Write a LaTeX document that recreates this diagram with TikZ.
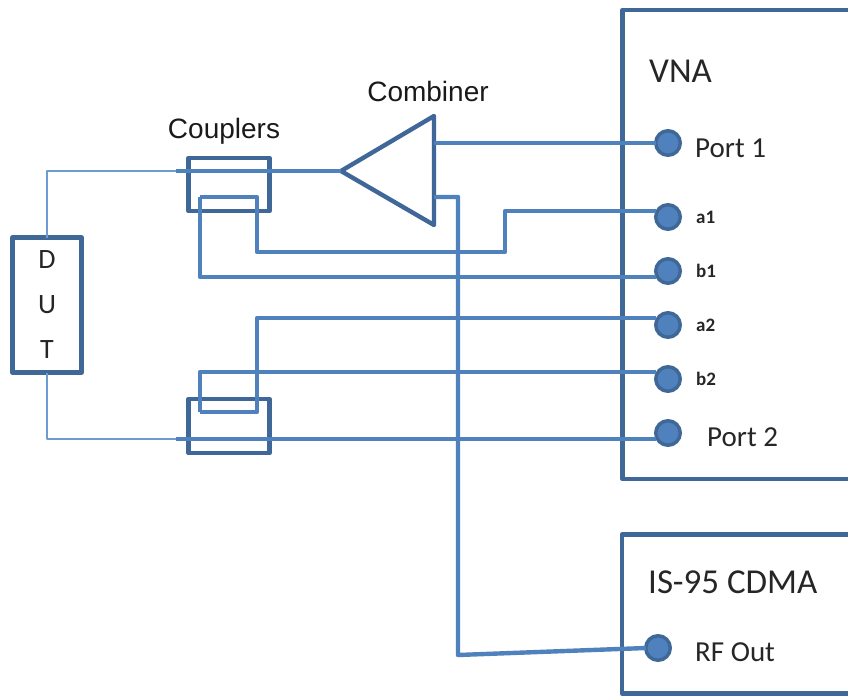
\documentclass[tikz,border=0pt]{standalone}
\usepackage{fontspec}
\setmainfont{Carlito}
\newfontfamily\labelfont{Liberation Sans}
\usetikzlibrary{positioning}
\definecolor{wireblue}{HTML}{4F81BD}
\definecolor{edgeblue}{HTML}{3F6797}
\definecolor{thinblue}{HTML}{6E9BD0}
\tikzset{
	box/.style={draw=edgeblue, line width=4.4pt, line join=round, outer sep=0pt, inner sep=0pt},
	wire/.style={draw=wireblue, line width=4.4pt, line join=round},
	thinwire/.style={draw=thinblue, line width=2.4pt, line join=round},
	port/.style={circle, draw=edgeblue, fill=wireblue, line width=3.5pt, minimum size=24.5pt, inner sep=0pt, outer sep=0pt},
	bigtext/.style={text=black!85, inner sep=0pt, font=\fontsize{29}{30}\selectfont},
	smalltext/.style={text=black!85, inner sep=0pt, font=\bfseries\fontsize{19}{20}\selectfont},
	titletext/.style={text=black!85, inner sep=0pt, font=\fontsize{35}{37}\selectfont},
	headtext/.style={text=black!90, inner sep=0pt, font=\labelfont\fontsize{28}{30}\selectfont},
}

\begin{document}
\begin{tikzpicture}[x=1pt, y=-1pt]
\useasboundingbox (0,0) rectangle (848,696);

% DUT
\node [box,
	minimum width=69pt,
	minimum height=135pt,
	align=center,
	font=\fontsize{28}{45}\selectfont,
	text=black!85,
]  (dut) at (47,305) {
\raisebox{-1.5pt}{D}\\\raisebox{-1.5pt}{U}\\\raisebox{-1.5pt}{T}
};

% Couplers
\node [box,
	minimum width=81pt,
	minimum height=53pt,
]  (coupler1) at (229,184.5) {};
\node [box,
	minimum width=81pt,
	minimum height=54pt,
	below = 188pt of coupler1
]  (coupler2) {};
\node [headtext, above = 13pt of coupler1, xshift=-5pt] (couplerlabel) {Couplers};

% Combiner
\coordinate (tip) at (341,171);
\coordinate (top) at (434,116);
\coordinate (bot) at (434,225);
\draw [box] (tip) -- (top) -- (bot) -- cycle;
\node [headtext] (combinerlabel) at (428,91) {Combiner};

% VNA
\coordinate (vnatop) at (848,10);
\coordinate (vnabot) at (848,479);
\draw [box] (vnatop) -| (622.5,479) -- (vnabot);
\node [titletext, anchor=west] (vna) at (649,71) {VNA};

% CDMA source
\coordinate (cdmatop) at (848,534.5);
\coordinate (cdmabot) at (848,693.5);
\draw [box] (cdmatop) -| (622,693.5) -- (cdmabot);
\node [titletext, anchor=west] (cdma) at (648,582) {IS-95 CDMA};

% Ports
\node [port] (port1) at (668,143) {};
\node [port, below = 49.5pt of port1] (a1) {};
\node [port, below = 29.5pt of a1] (b1) {};
\node [port, below = 29.5pt of b1] (a2) {};
\node [port, below = 29.5pt of a2] (b2) {};
\node [port, below = 29.5pt of b2] (port2) {};
\node [port] (rfout) at (658,648) {};

% Port labels
\node [bigtext, anchor=west] (port1label) at (695,148) {Port 1};
\node [smalltext, anchor=west] at (696,217) {a1};
\node [smalltext, anchor=west] at (696,271) {b1};
\node [smalltext, anchor=west] at (696,325) {a2};
\node [smalltext, anchor=west] at (696,379) {b2};
\node [bigtext, anchor=west] (port2label) at (707,437) {Port 2};
\node [bigtext, anchor=west] (rflabel) at (695,652) {RF Out};

% Points on the wires
\coordinate (in1) at (176,171);
\coordinate (in2) at (176,439);
\coordinate (loop1a) at (257,197);
\coordinate (loop1b) at (200,197);
\coordinate (loop2a) at (257,412);
\coordinate (loop2b) at (200,412);
\coordinate (sumout) at (434,143);
\coordinate (sumin) at (434,197);

% Wires
\draw [thinwire] (dut.north) |- (in1);
\draw [thinwire] (dut.south) |- (in2);
\draw [wire] (in1) -- (tip);
\draw [wire] (in2) -- (in2 -| port2.west);
\draw [wire] (sumout) -- (port1.west);
\draw [wire] (sumin) -| (458,655) -- (rfout.west);
\draw [wire] (loop1b) -- (loop1a) |- (505,252) |- ([yshift=6pt]a1.west);
\draw [wire] (loop1b) |- ([yshift=-6pt]b1.west);
\draw [wire] (loop2b) -- (loop2a) |- ([yshift=7pt]a2.west);
\draw [wire] (loop2b) |- ([yshift=7pt]b2.west);

\end{tikzpicture}
\end{document}
